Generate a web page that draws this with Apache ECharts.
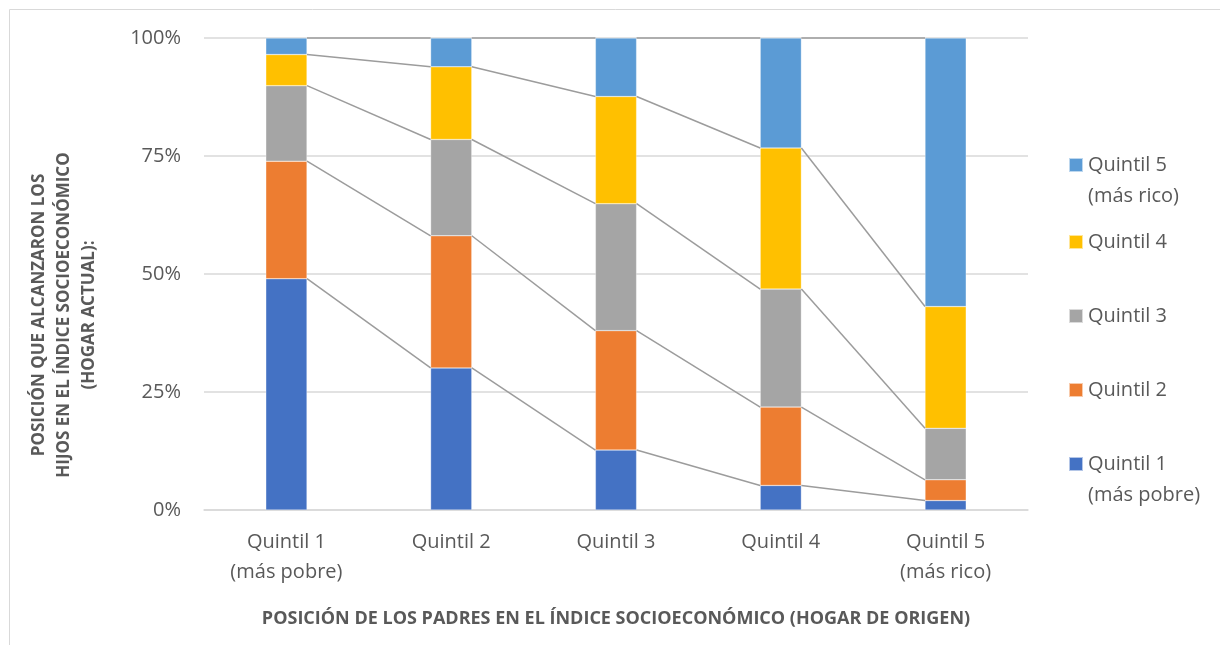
<!DOCTYPE html>
<html>
<head>
<meta charset="utf-8">
<script src="https://cdn.jsdelivr.net/npm/echarts@6/dist/echarts.min.js"></script>
<style>
html, body { margin: 0; padding: 0; background: #fff; }
#chart { width: 1220px; height: 645px; }
</style>
</head>
<body>
<div id="chart"></div>
<script>
// categorias: quintil de los padres
var categories = ['Quintil 1\n(más pobre)', 'Quintil 2', 'Quintil 3', 'Quintil 4', 'Quintil 5\n(más rico)']
// posicion alcanzada por los hijos (%)
var quintil1 = [49.0, 30.1, 12.7, 5.2, 2.0]
var quintil2 = [24.9, 28.0, 25.3, 16.6, 4.4]
var quintil3 = [16.0, 20.4, 26.9, 25.0, 10.9]
var quintil4 = [6.6, 15.4, 22.7, 29.9, 25.8]
var quintil5 = [3.5, 6.1, 12.4, 23.3, 56.9]
var yTicks = [0, 25, 50, 75, 100]

var names = ['Quintil 1', 'Quintil 2', 'Quintil 3', 'Quintil 4', 'Quintil 5']
var legendText = [' \nQuintil 1\n(más pobre)', 'Quintil 2', 'Quintil 3', 'Quintil 4', ' \nQuintil 5\n(más rico)']
var colors = ['#4472C4', '#ED7D31', '#A5A5A5', '#FFC000', '#5B9BD5']
var values = [quintil1, quintil2, quintil3, quintil4, quintil5]
var legendTop = [417.5, 374.5, 300.5, 226.5, 118.5]
var textColor = '#595959'
var font = '"Open Sans", sans-serif'

// lineas de serie: unen los limites de cada segmento entre barras vecinas
var cum = []
var run = [0, 0, 0, 0, 0]
values.forEach(function (arr) {
    run = run.map(function (v, i) { return v + arr[i] })
    cum.push(run.slice())
})
var linkData = []
cum.forEach(function (level) {
    for (var i = 0; i < level.length - 1; i++) {
        linkData.push([i, level[i], level[i + 1]])
    }
})

var series = values.map(function (arr, k) {
    return {
        name: names[k],
        type: 'bar',
        stack: 'total',
        barWidth: '25%',
        itemStyle: { color: colors[k], borderColor: 'rgba(255,255,255,0.6)', borderWidth: 0.5 },
        data: arr
    }
})
series.push({
    type: 'custom',
    silent: true,
    data: linkData,
    renderItem: function (params, api) {
        var i = api.value(0)
        var a = api.coord([i, api.value(1)])
        var b = api.coord([i + 1, api.value(2)])
        var half = api.size([1, 0])[0] * 0.25 / 2
        return {
            type: 'line',
            shape: { x1: a[0] + half, y1: a[1], x2: b[0] - half, y2: b[1] },
            style: { stroke: '#9c9c9c', lineWidth: 1.5 }
        }
    },
    z: 3
})

var legends = names.map(function (n, k) {
    return {
        data: [n],
        left: 1068,
        top: legendTop[k],
        padding: 0,
        itemWidth: 14,
        itemHeight: 14,
        icon: 'rect',
        selectedMode: false,
        formatter: function () { return legendText[k] },
        textStyle: { color: textColor, fontSize: 20, fontFamily: font, lineHeight: 31 }
    }
})

var chart = echarts.init(document.getElementById('chart'))
chart.setOption({
    animation: false,
    color: colors,
    grid: { left: 204, right: 192, top: 38, bottom: 135 },
    legend: legends,
    xAxis: {
        type: 'category',
        data: categories,
        axisTick: { show: false },
        axisLine: { lineStyle: { color: '#d9d9d9', width: 1.5 } },
        axisLabel: { interval: 0, color: textColor, fontSize: 20, fontFamily: font, lineHeight: 30, margin: 17 },
        name: 'POSICIÓN DE LOS PADRES EN EL ÍNDICE SOCIOECONÓMICO (HOGAR DE ORIGEN)',
        nameLocation: 'middle',
        nameGap: 100,
        nameTextStyle: { color: textColor, fontSize: 18, fontWeight: 'bold', fontFamily: font }
    },
    yAxis: {
        type: 'value',
        min: yTicks[0],
        max: yTicks[yTicks.length - 1],
        interval: 25,
        axisLine: { show: false },
        axisTick: { show: false },
        splitLine: { lineStyle: { color: '#d9d9d9', width: 1.5 } },
        axisLabel: { formatter: '{value}%', color: textColor, fontSize: 20, fontFamily: font, margin: 23 }
    },
    graphic: [
        {
            type: 'rect',
            shape: { x: 9.5, y: 9.5, width: 1400, height: 800 },
            style: { fill: 'none', stroke: '#d9d9d9', lineWidth: 1 },
            silent: true
        },
        {
            type: 'text',
            x: 64,
            y: 315,
            rotation: Math.PI / 2,
            style: {
                text: 'POSICIÓN QUE ALCANZARON LOS\nHIJOS EN EL ÍNDICE SOCIOECONÓMICO\n(HOGAR ACTUAL):',
                fill: textColor,
                font: 'bold 17px "Open Sans", sans-serif',
                lineHeight: 25,
                textAlign: 'center',
                textVerticalAlign: 'middle'
            }
        }
    ],
    series: series
})
window.onresize = function () { chart.resize() }
</script>
</body>
</html>
